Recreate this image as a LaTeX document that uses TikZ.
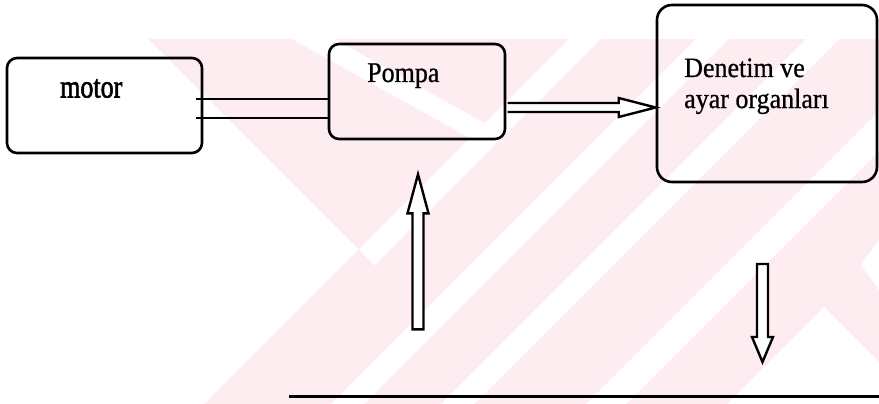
\documentclass[tikz,border=0pt]{standalone}
\usepackage{graphicx}
\usepackage{fontspec}
\setmainfont{Liberation Serif}[FakeBold=0.8]
\newfontfamily\heavyfont{Liberation Serif}[FakeBold=2]
\usetikzlibrary{calc}
\definecolor{wm}{RGB}{253,236,240}
\tikzset{
  box/.style={draw, line width=2.6pt, rounded corners=10pt, inner sep=0pt},
  lbl/.style={anchor=base west, inner sep=0pt, font=\fontsize{26}{31}\selectfont},
  link/.style={line width=2.2pt},
  hollow/.style={draw, line width=2.4pt, fill=white, line join=miter},
  baseline/.style={line width=2.6pt},
}
\newcommand{\tall}[2]{\scalebox{1}[#1]{#2}}
\begin{document}
\begin{tikzpicture}[x=1pt,y=-1pt]
\useasboundingbox (0,0) rectangle (879,404);
% watermark
\fill[wm] (0,39) rectangle (879,404);
\fill[white] (0,39) -- (148,39) -- (358.5,249.5) -- (204,404) -- (0,404) -- cycle;
\fill[white] (569,39) -- (601,39) -- (374.5,265.5) -- (358.5,249.5) -- cycle;
\fill[white] (292,39) -- (334,39) -- (495,129) -- (475,141) -- cycle;
\fill[white] (696,39) -- (729,39) -- (364,404) -- (331,404) -- cycle;
\fill[white] (806,39) -- (839,39) -- (474,404) -- (441,404) -- cycle;
\fill[white] (951,39) -- (991,39) -- (626,404) -- (586,404) -- cycle;
\fill[white] (824,307) -- (727,404) -- (921,404) -- cycle;
\fill[white] (879,240) -- (861,265) -- (879,290) -- cycle;
% boxes
\node[box, minimum width=195pt, minimum height=95pt] (motor) at (104.5,105.5) {};
\node[box, minimum width=176pt, minimum height=95pt] (pompa) at (417,91.5) {};
\node[box, rounded corners=15pt, minimum width=220pt, minimum height=177pt] (denetim) at (767,93.5) {};
% labels
\node[lbl, font=\heavyfont\fontsize{26}{31}\selectfont] (motorlbl) at (60,97.5) {\tall{1.25}{motor}};
\node[lbl] (pompalbl) at (367,82) {\tall{1.1}{Pompa}};
\node[lbl] (denlbla) at (684,77) {\tall{1.08}{Denetim ve}};
\node[lbl] (denlblb) at (684,108) {\tall{1.08}{ayar organları}};
% motor -> pompa shaft lines
\coordinate (m1) at ($(motor.east)+(-7,-6.5)$);
\coordinate (m2) at ($(motor.east)+(-7,12.5)$);
\draw[link] (m1) -- (m1 -| pompa.west);
\draw[link] (m2) -- (m2 -| pompa.west);
% pompa -> denetim hollow arrow
\coordinate (r0) at ($(pompa.east)+(1.3,16)$);
\coordinate (rt) at (r0 -| denetim.west);
\draw[hollow] ($(r0)+(0,-4.5)$) -- ($(rt)+(-37,-4.5)$) -- ($(rt)+(-37,-9.5)$) -- (rt)
  -- ($(rt)+(-37,9.5)$) -- ($(rt)+(-37,4.5)$) -- ($(r0)+(0,4.5)$);
% up arrow (free)
\coordinate (upTip) at ($(pompa.south)+(1,34)$);
\coordinate (upEnd) at ($(upTip)+(0,155)$);
\draw[hollow] ($(upEnd)+(-5.5,0)$) -- ($(upTip)+(-5.5,39)$) -- ($(upTip)+(-10.5,39)$) -- (upTip)
  -- ($(upTip)+(10.5,39)$) -- ($(upTip)+(5.5,39)$) -- ($(upEnd)+(5.5,0)$) -- cycle;
% down arrow (free)
\coordinate (dnStart) at (762.5,264);
\coordinate (dnTip) at (762.5,362);
\draw[hollow] ($(dnStart)+(-5.5,0)$) -- ($(dnTip)+(-5.5,-25)$) -- ($(dnTip)+(-10.5,-25)$) -- (dnTip)
  -- ($(dnTip)+(10.5,-25)$) -- ($(dnTip)+(5.5,-25)$) -- ($(dnStart)+(5.5,0)$) -- cycle;
% bottom line
\coordinate (bl) at (289,396.5);
\coordinate (br) at (879,396.5);
\draw[baseline] (bl) -- (br);
\end{tikzpicture}
\end{document}
